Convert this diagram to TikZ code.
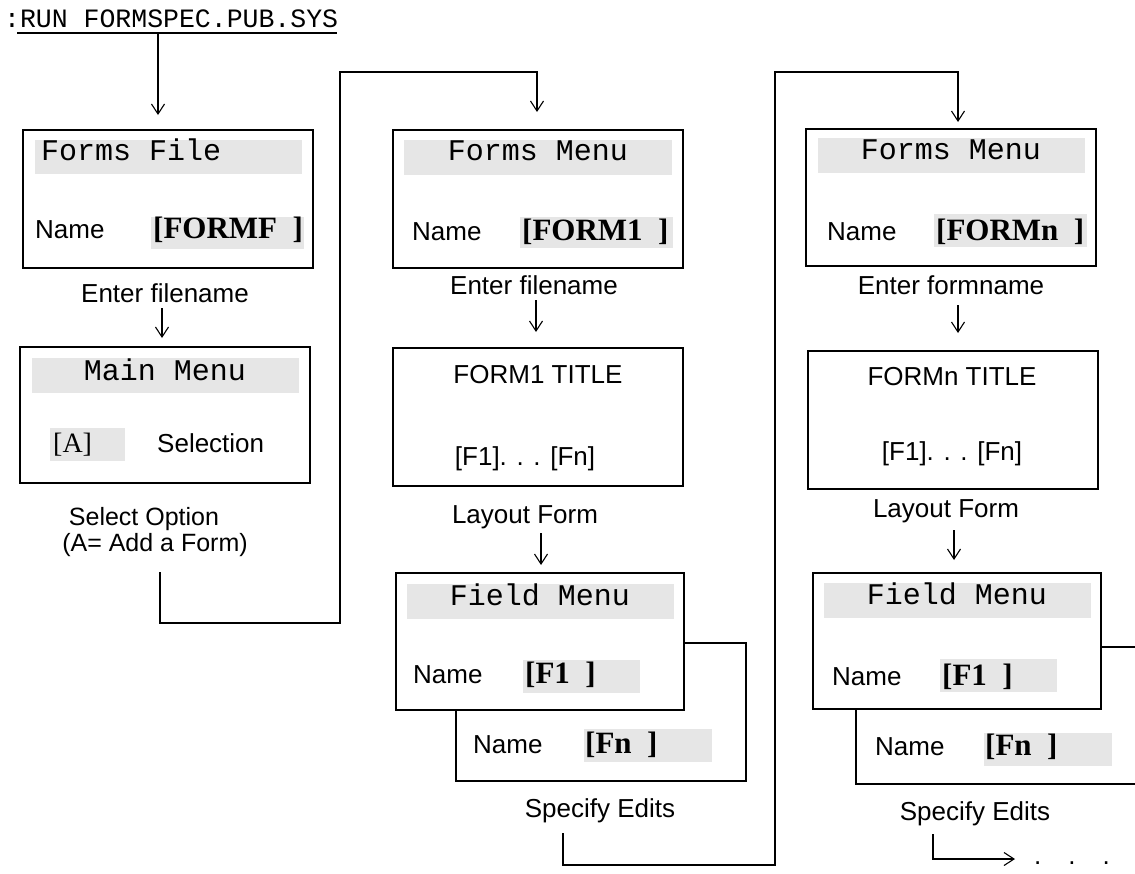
\documentclass[tikz,border=0pt]{standalone}
\usepackage{fontspec}
\setmainfont{Liberation Sans}
\newfontfamily\monof{Liberation Mono}
\newfontfamily\serf{Liberation Serif}
\usetikzlibrary{arrows.meta}
\definecolor{bandgray}{RGB}{230,230,230}
\tikzset{
  scr/.style={draw, line width=1.2pt, fill=white, anchor=north west, inner sep=0pt, outer sep=0pt},
  band/.style={fill=bandgray, draw=none, anchor=north west, inner sep=0pt, outer sep=0pt},
  mono/.style={font=\monof\fontsize{30}{30}\selectfont, inner sep=0pt},
  sans/.style={font=\fontsize{26}{28}\selectfont, inner sep=0pt},
  brk/.style={font=\serf\bfseries\fontsize{31}{31}\selectfont, inner sep=0pt, anchor=base west},
  conn/.style={line width=1.1pt},
  arr/.style={conn, -{Straight Barb[length=10pt,width=13pt]}},
}
\begin{document}
\begin{tikzpicture}[x=1pt,y=-1pt]
\useasboundingbox (0,0) rectangle (1135,873);
\clip (0,0) rectangle (1135,873);

% top command
\node[font=\monof\fontsize{26.5}{27}\selectfont, inner sep=0pt, anchor=base west] (run) at (4,27) {:RUN FORMSPEC.PUB.SYS};
\draw[conn] (17,33) -- (337,33);
\coordinate (r0) at (158,34);

% ---------- column 1 ----------
\node[scr, minimum width=290pt, minimum height=138pt] (b1) at (23,130) {};
\node[band, minimum width=267pt, minimum height=34pt] (g1) at (35,140) {};
\node[mono, anchor=base west] (t1) at (41,160) {Forms File};
\node[band, minimum width=153pt, minimum height=32pt] (g1b) at (151,217) {};
\node[sans, anchor=base west] (n1) at (35,238) {Name};
\node[brk] (v1) at (153,238) {[FORMF\ \ ]};
\node[sans, anchor=base] (lab1) at (165,302) {Enter filename};

\node[scr, minimum width=290pt, minimum height=136pt] (b2) at (20,347) {};
\node[band, minimum width=267pt, minimum height=35pt] (g2) at (32,358) {};
\node[mono, anchor=base] (t2) at (165,380) {Main Menu};
\node[band, minimum width=75pt, minimum height=33pt] (g2b) at (50,428) {};
\node[font=\serf\fontsize{28}{28}\selectfont, inner sep=0pt, anchor=base west] (v2) at (53,452) {[A]};
\node[sans, anchor=base west] (s2) at (157,452) {Selection};
\node[sans, font=\fontsize{25}{26}\selectfont, anchor=base] (opt1) at (144,525) {Select Option};
\node[sans, font=\fontsize{25}{26}\selectfont, anchor=base] (opt2) at (155,551) {(A= Add a Form)};

% ---------- column 2 ----------
\node[scr, minimum width=290pt, minimum height=138pt] (b3) at (393,130) {};
\node[band, minimum width=268pt, minimum height=35pt] (g3) at (404,140) {};
\node[mono, anchor=base] (t3) at (538,160) {Forms Menu};
\node[band, minimum width=153pt, minimum height=31pt] (g3b) at (520,217) {};
\node[sans, anchor=base west] (n3) at (412,240) {Name};
\node[brk] (v3) at (522,240) {[FORM1\ \ ]};
\node[sans, anchor=base] (lab3) at (534,294) {Enter filename};

\node[scr, minimum width=290pt, minimum height=138pt] (b4) at (393,348) {};
\node[sans, anchor=base] (t4) at (538,383) {FORM1 TITLE};
\node[sans, anchor=base] (f4) at (525,465) {[F1]. . . [Fn]};
\node[sans, anchor=base] (lab4) at (525,523) {Layout Form};

\node[scr, minimum width=290pt, minimum height=138pt] (b6) at (456,643) {};
\node[scr, minimum width=288pt, minimum height=137pt] (b5) at (396,573) {};
\node[band, minimum width=267pt, minimum height=35pt] (g5) at (407,584) {};
\node[mono, anchor=base] (t5) at (540,605) {Field Menu};
\node[band, minimum width=117pt, minimum height=33pt] (g5b) at (523,660) {};
\node[sans, anchor=base west] (n5) at (413,683) {Name};
\node[brk] (v5) at (525,683) {[F1\ \ ]};
\node[band, minimum width=128pt, minimum height=33pt] (g6b) at (584,729) {};
\node[sans, anchor=base west] (n6) at (473,753) {Name};
\node[brk] (v6) at (585,753) {[Fn\ \ ]};
\node[sans, anchor=base] (lab5) at (600,817) {Specify Edits};

% ---------- column 3 ----------
\node[scr, minimum width=290pt, minimum height=137pt] (b7) at (806,129) {};
\node[band, minimum width=267pt, minimum height=35pt] (g7) at (818,138) {};
\node[mono, anchor=base] (t7) at (951,159) {Forms Menu};
\node[band, minimum width=153pt, minimum height=33pt] (g7b) at (934,214) {};
\node[sans, anchor=base west] (n7) at (827,240) {Name};
\node[brk] (v7) at (936,240) {[FORMn\ \ ]};
\node[sans, anchor=base] (lab7) at (951,294) {Enter formname};

\node[scr, minimum width=290pt, minimum height=138pt] (b8) at (808,351) {};
\node[sans, anchor=base] (t8) at (952,385) {FORMn TITLE};
\node[sans, anchor=base] (f8) at (952,460) {[F1]. . . [Fn]};
\node[sans, anchor=base] (lab8) at (946,517) {Layout Form};

\node[scr, minimum width=300pt, minimum height=137pt] (b10) at (856,647) {};
\node[scr, minimum width=288pt, minimum height=136pt] (b9) at (813,573) {};
\node[band, minimum width=267pt, minimum height=35pt] (g9) at (824,583) {};
\node[mono, anchor=base] (t9) at (957,604) {Field Menu};
\node[band, minimum width=117pt, minimum height=33pt] (g9b) at (940,659) {};
\node[sans, anchor=base west] (n9) at (832,685) {Name};
\node[brk] (v9) at (942,685) {[F1\ \ ]};
\node[band, minimum width=128pt, minimum height=33pt] (g10b) at (984,733) {};
\node[sans, anchor=base west] (n10) at (875,755) {Name};
\node[brk] (v10) at (985,755) {[Fn\ \ ]};
\node[sans, anchor=base] (lab9) at (975,820) {Specify Edits};
\node[sans, anchor=base west] (dots) at (1034,864) {.\hspace{27pt}.\hspace{27pt}.};

% ---------- connectors ----------
\draw[arr, shorten >=15pt] (r0) -- (r0 |- b1.north);

\coordinate (s1) at (162,308);
\draw[arr, shorten >=9pt] (s1) -- (s1 |- b2.north);

\coordinate (c1) at (160,572);
\coordinate (k1) at (537,72);
\draw[arr, shorten >=18pt] (c1) -- (160,623) -- (340,623) -- (340,72) -- (k1) -- (k1 |- b3.north);

\coordinate (s3) at (536,300);
\draw[arr, shorten >=16pt] (s3) -- (s3 |- b4.north);

\coordinate (s4) at (541,533);
\draw[arr, shorten >=8pt] (s4) -- (s4 |- b5.north);

\coordinate (c2) at (563,833);
\coordinate (k2) at (958,72);
\draw[arr, shorten >=7pt] (c2) -- (563,865) -- (775,865) -- (775,72) -- (k2) -- (k2 |- b7.north);

\coordinate (s7) at (958,305);
\draw[arr, shorten >=18pt] (s7) -- (s7 |- b8.north);

\coordinate (s8) at (954,530);
\draw[arr, shorten >=13pt] (s8) -- (s8 |- b9.north);

\coordinate (c3) at (933,834);
\draw[arr, shorten >=19pt] (c3) -- (933,859) -- (933,859 -| dots.west);
\end{tikzpicture}
\end{document}
